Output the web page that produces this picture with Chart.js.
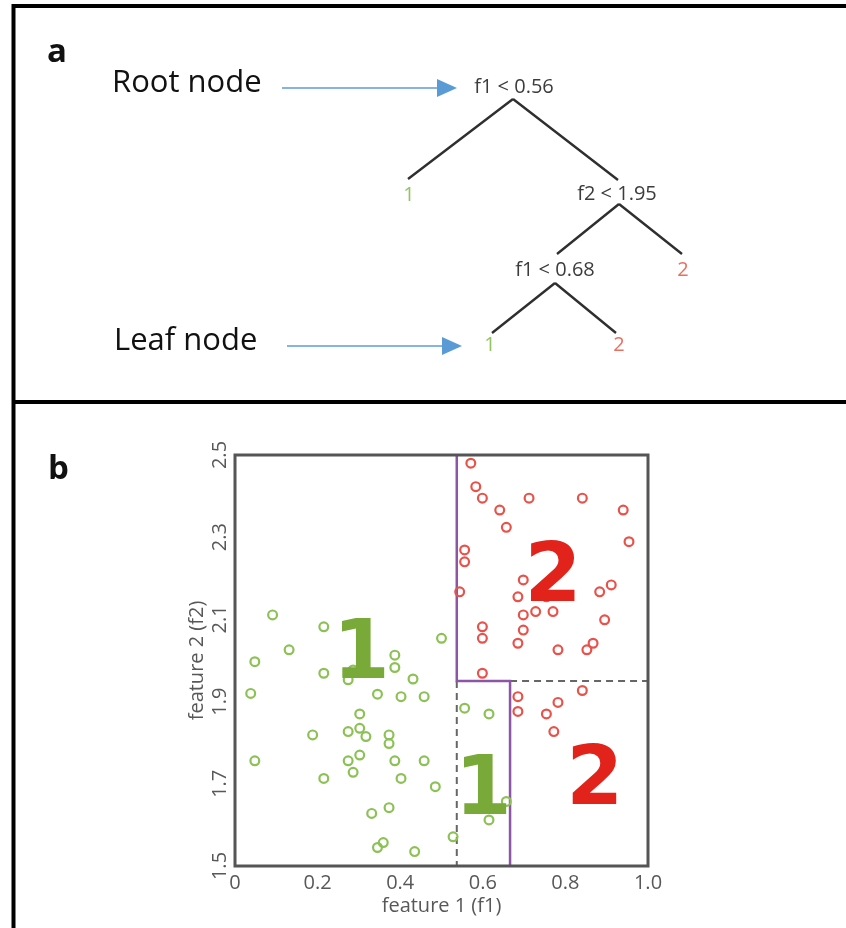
<!DOCTYPE html>
<html>
<head>
<meta charset="utf-8">
<title>Decision tree and its feature-space partition</title>
<script src="https://cdn.jsdelivr.net/npm/chart.js@4.4.1/dist/chart.umd.min.js"></script>
<style>
  html, body { margin: 0; padding: 0; background: #fff; }
  canvas { display: block; }
</style>
</head>
<body>
<canvas id="fig" width="846" height="928"></canvas>
<script>
// ── Axis ticks ────────────────────────────────────────────────────────────────
const X_TICKS = [0, 0.2, 0.4, 0.6, 0.8, 1.0];
const Y_TICKS = [1.5, 1.7, 1.9, 2.1, 2.3, 2.5];

// ── Class 1 (green) samples: feature 1, feature 2 ───────────────────────────
const CLASS1_F1 = [0.091, 0.215, 0.131, 0.048, 0.215, 0.038, 0.048, 0.274, 0.286, 0.387,
                   0.387, 0.431, 0.500, 0.345, 0.402, 0.458, 0.302, 0.188, 0.274, 0.302,
                   0.317, 0.373, 0.373, 0.274, 0.302, 0.286, 0.387, 0.458, 0.215, 0.402,
                   0.485, 0.331, 0.373, 0.345, 0.359, 0.435, 0.528, 0.556, 0.615, 0.657,
                   0.615];
const CLASS1_F2 = [2.111, 2.082, 2.026, 1.997, 1.969, 1.920, 1.756, 1.953, 1.977, 2.013,
                   1.983, 1.955, 2.054, 1.918, 1.912, 1.912, 1.870, 1.819, 1.827, 1.835,
                   1.815, 1.819, 1.798, 1.756, 1.770, 1.728, 1.756, 1.756, 1.713, 1.713,
                   1.693, 1.628, 1.642, 1.545, 1.557, 1.535, 1.571, 1.884, 1.870, 1.657,
                   1.612];

// ── Class 2 (red) samples ───────────────────────────────────────────────────
const CLASS2_F1 = [0.571, 0.583, 0.599, 0.712, 0.841, 0.641, 0.657, 0.940, 0.954, 0.556,
                   0.556, 0.544, 0.698, 0.685, 0.754, 0.698, 0.728, 0.770, 0.698, 0.685,
                   0.782, 0.599, 0.599, 0.599, 0.883, 0.911, 0.895, 0.867, 0.852, 0.685,
                   0.685, 0.754, 0.782, 0.841, 0.772];
const CLASS2_F2 = [2.480, 2.423, 2.395, 2.395, 2.395, 2.366, 2.324, 2.366, 2.289, 2.269,
                   2.240, 2.167, 2.196, 2.155, 2.155, 2.111, 2.119, 2.119, 2.074, 2.042,
                   2.026, 2.082, 2.054, 1.969, 2.167, 2.184, 2.099, 2.042, 2.026, 1.912,
                   1.876, 1.870, 1.898, 1.927, 1.827];

// ── Split boundaries (where the figure draws them) ──────────────────────────
const SPLIT_F1_ROOT = 0.537;
const SPLIT_F2      = 1.95;
const SPLIT_F1_LOW  = 0.666;

// ── Big region labels ───────────────────────────────────────────────────────
const REGION_TEXT  = ['1', '2', '1', '2'];
const REGION_CLASS = [1, 2, 1, 2];
const REGION_F1    = [0.306, 0.770, 0.601, 0.871];
const REGION_F2    = [2.030, 2.220, 1.700, 1.725];

// ── Tree (panel a) ──────────────────────────────────────────────────────────
const TREE_SPLITS = ['f1 < 0.56', 'f2 < 1.95', 'f1 < 0.68'];
const TREE_LEAVES = ['1', '2', '1', '2'];
const LEAF_CLASS  = [1, 2, 1, 2];

// ── Colours ─────────────────────────────────────────────────────────────────
const GREEN_PT  = '#8cc155';
const RED_PT    = '#e8524a';
const GREEN_TXT = '#78a939';
const RED_TXT   = '#e2231b';
const PURPLE    = '#8c55a6';
const AXIS_GREY = '#585858';
const FONT      = '"Open Sans", "DejaVu Sans", sans-serif';
const BIG_FONT  = '"DejaVu Sans", sans-serif';

const zip = (xs, ys) => xs.map((x, i) => ({ x, y: ys[i] }));
const X_MIN = X_TICKS[0], X_MAX = X_TICKS[X_TICKS.length - 1];
const Y_MIN = Y_TICKS[0], Y_MAX = Y_TICKS[Y_TICKS.length - 1];

// ── Panel frames + tree diagram ─────────────────────────────────────────────
function arrow(ctx, x0, x1, y) {
  ctx.strokeStyle = '#5b9bd5'; ctx.fillStyle = '#5b9bd5'; ctx.lineWidth = 1.5;
  ctx.beginPath(); ctx.moveTo(x0, y); ctx.lineTo(x1 - 18, y); ctx.stroke();
  ctx.beginPath(); ctx.moveTo(x1, y); ctx.lineTo(x1 - 20, y - 9); ctx.lineTo(x1 - 20, y + 9); ctx.closePath(); ctx.fill();
}

const panelPlugin = {
  id: 'panels',
  beforeDraw(chart) {
    const ctx = chart.ctx;
    ctx.save();
    ctx.fillStyle = '#fff'; ctx.fillRect(0, 0, chart.width, chart.height);

    // frames
    ctx.strokeStyle = '#000'; ctx.lineWidth = 4;
    ctx.beginPath();
    ctx.moveTo(846, 6); ctx.lineTo(13.5, 6); ctx.lineTo(13.5, 928);
    ctx.moveTo(12, 402); ctx.lineTo(846, 402);
    ctx.stroke();

    // panel letters
    ctx.fillStyle = '#111'; ctx.textAlign = 'left'; ctx.textBaseline = 'alphabetic';
    ctx.font = `bold 33px ${FONT}`;
    ctx.fillText('a', 47, 62);
    ctx.fillText('b', 48, 479);

    ctx.font = `31px ${FONT}`;
    ctx.fillText('Root node', 112, 92);
    ctx.fillText('Leaf node', 114, 350);
    arrow(ctx, 282, 457, 88);
    arrow(ctx, 287, 462, 346);

    // tree edges
    ctx.strokeStyle = '#2f2f2f'; ctx.lineWidth = 2.4;
    const edges = [[513, 99, 408, 179], [513, 99, 618, 180],
                   [619, 204, 557, 254], [619, 204, 682, 254],
                   [555, 283, 492, 333], [555, 283, 616, 333]];
    ctx.beginPath();
    edges.forEach(([a, b, c, d]) => { ctx.moveTo(a, b); ctx.lineTo(c, d); });
    ctx.stroke();

    ctx.textAlign = 'center'; ctx.textBaseline = 'middle';
    ctx.font = `20px ${FONT}`;
    ctx.fillStyle = '#3c3c3c';
    const splitPos = [[514, 87], [617, 194], [555, 270]];
    TREE_SPLITS.forEach((t, i) => ctx.fillText(t, splitPos[i][0], splitPos[i][1]));
    const leafPos = [[409, 195], [683, 270], [490, 345], [619, 345]];
    TREE_LEAVES.forEach((t, i) => {
      ctx.fillStyle = LEAF_CLASS[i] === 1 ? '#93c462' : '#e8705f';
      ctx.fillText(t, leafPos[i][0], leafPos[i][1]);
    });
    ctx.restore();
  },
  afterDatasetsDraw(chart) {
    const { ctx, chartArea: a, scales: { x, y } } = chart;
    ctx.save();
    ctx.strokeStyle = '#555'; ctx.lineWidth = 3;
    ctx.strokeRect(a.left, a.top, a.right - a.left, a.bottom - a.top);

    ctx.font = `bold 82px ${BIG_FONT}`;
    ctx.textAlign = 'center'; ctx.textBaseline = 'alphabetic';
    REGION_TEXT.forEach((t, i) => {
      const m = ctx.measureText(t);
      ctx.fillStyle = REGION_CLASS[i] === 1 ? GREEN_TXT : RED_TXT;
      ctx.fillText(t, x.getPixelForValue(REGION_F1[i]),
                   y.getPixelForValue(REGION_F2[i]) + m.actualBoundingBoxAscent / 2);
    });
    ctx.restore();
  }
};

const pointStyle = color => ({
  pointStyle: 'circle', pointRadius: 4.4, pointHoverRadius: 4.4,
  borderColor: color, backgroundColor: 'rgba(255,255,255,0)', borderWidth: 2.2, showLine: false,
});
const lineStyle = (color, dash, width) => ({
  showLine: true, pointRadius: 0, borderColor: color, borderDash: dash,
  borderWidth: width, fill: false, tension: 0,
});

new Chart(document.getElementById('fig'), {
  type: 'scatter',
  data: {
    datasets: [
      { label: 'class 1', data: zip(CLASS1_F1, CLASS1_F2), ...pointStyle(GREEN_PT) },
      { label: 'class 2', data: zip(CLASS2_F1, CLASS2_F2), ...pointStyle(RED_PT) },
      { label: 'tree boundary', ...lineStyle(PURPLE, [], 2.5),
        data: [{ x: SPLIT_F1_ROOT, y: Y_MAX }, { x: SPLIT_F1_ROOT, y: SPLIT_F2 },
               { x: SPLIT_F1_LOW, y: SPLIT_F2 }, { x: SPLIT_F1_LOW, y: Y_MIN }] },
      { label: 'f1 cut', ...lineStyle('#666', [7, 5], 2),
        data: [{ x: SPLIT_F1_ROOT, y: SPLIT_F2 }, { x: SPLIT_F1_ROOT, y: Y_MIN }] },
      { label: 'f2 cut', ...lineStyle('#666', [7, 5], 2),
        data: [{ x: SPLIT_F1_LOW, y: SPLIT_F2 }, { x: X_MAX, y: SPLIT_F2 }] },
    ]
  },
  options: {
    responsive: false, animation: false, devicePixelRatio: 1,
    layout: { padding: { left: 180, top: 455, right: 198, bottom: 10 } },
    plugins: { legend: { display: false }, tooltip: { enabled: false } },
    scales: {
      x: {
        type: 'linear', min: X_MIN, max: X_MAX,
        grid: { display: false, drawTicks: false }, border: { display: false },
        afterBuildTicks: s => { s.ticks = X_TICKS.map(v => ({ value: v })); },
        afterFit: s => { s.height = 52; },
        ticks: { padding: 5, color: AXIS_GREY, font: { family: FONT, size: 20 },
                 callback: v => (v === 0 ? '0' : v.toFixed(1)) },
        title: { display: true, text: 'feature 1 (f1)', color: AXIS_GREY,
                 font: { family: FONT, size: 20 }, padding: { top: 0, bottom: 0 } },
      },
      y: {
        type: 'linear', min: Y_MIN, max: Y_MAX,
        grid: { display: false, drawTicks: false }, border: { display: false },
        afterBuildTicks: s => { s.ticks = Y_TICKS.map(v => ({ value: v })); },
        afterFit: s => { s.width = 55; },
        ticks: { padding: 1, minRotation: 90, maxRotation: 90, crossAlign: 'center',
                 color: AXIS_GREY, font: { family: FONT, size: 20 },
                 callback: v => v.toFixed(1) },
        title: { display: true, text: 'feature 2 (f2)', color: AXIS_GREY,
                 font: { family: FONT, size: 20 }, padding: { top: 5, bottom: 0 } },
      }
    }
  },
  plugins: [panelPlugin]
});
</script>
</body>
</html>
